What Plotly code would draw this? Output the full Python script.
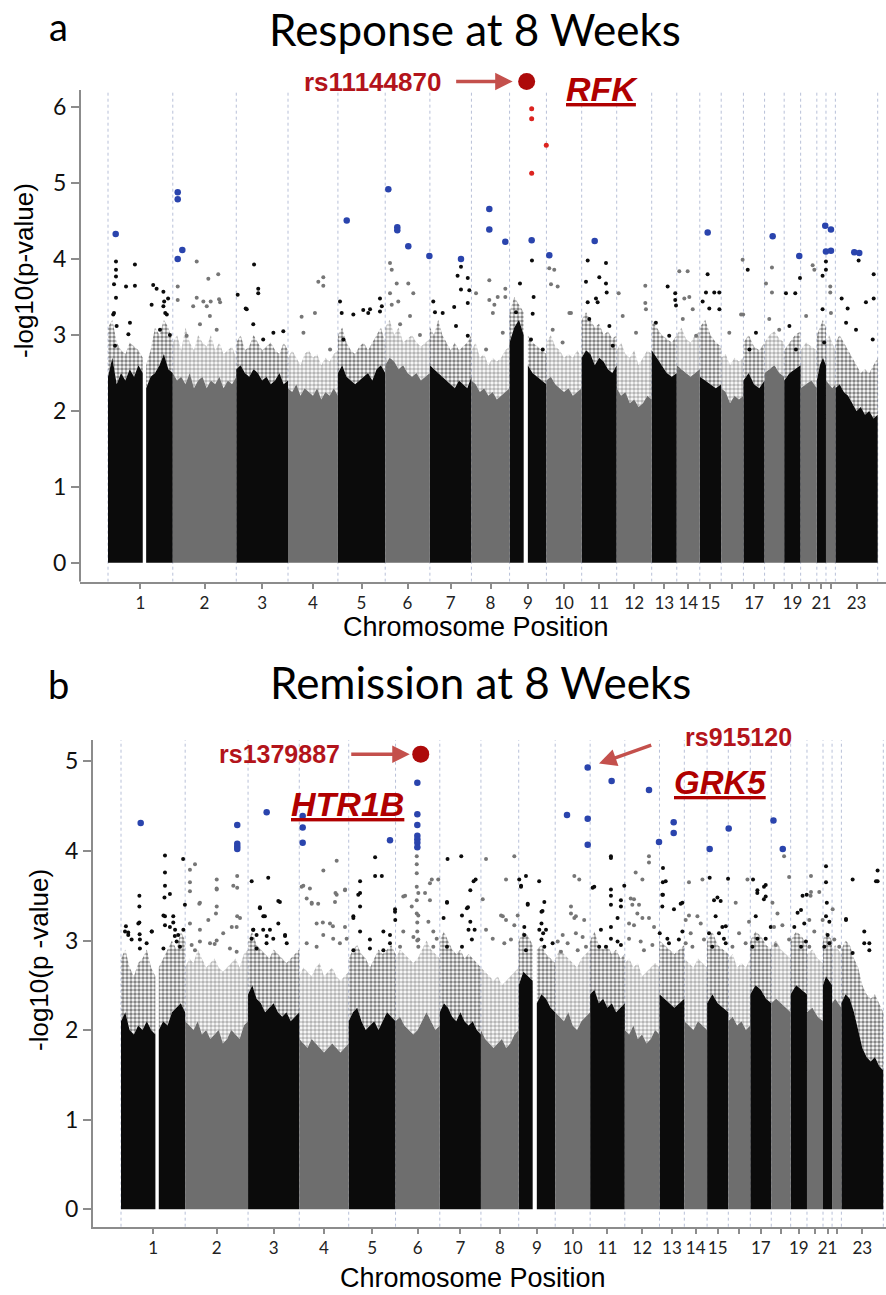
import plotly.graph_objects as go

# ---------------- data ----------------
CHROM_LEN = [248, 243, 198, 191, 181, 171, 159, 146, 141, 135, 134, 134,
             96, 88, 82, 85, 81, 75, 63, 62, 35, 36, 162]
GAPS = {1: (133, 146), 9: (54, 70)}
TICK_TEXT = ['1', '2', '3', '4', '5', '6', '7', '8', '9', '10', '11', '12',
             '13', '14', '15', '', '17', '', '19', '', '21', '', '23']

# panel a: dense-mass top (inner) and speckle top (outer), per chromosome segment
ENV_A_IN = {
    '1a': [2.45, 2.7, 2.35, 2.5, 2.4, 2.55, 2.45, 2.6, 2.5],
    '1b': [2.3, 2.45, 2.5, 2.6, 2.75, 2.55, 2.5],
    '2': [2.5, 2.4, 2.45, 2.35, 2.5, 2.3, 2.4, 2.45, 2.3, 2.4, 2.35, 2.45, 2.3, 2.4, 2.35, 2.45],
    '3': [2.55, 2.6, 2.5, 2.45, 2.55, 2.5, 2.4, 2.45, 2.35, 2.4, 2.5, 2.35, 2.4],
    '4': [2.3, 2.25, 2.35, 2.2, 2.3, 2.25, 2.2, 2.3, 2.15, 2.25, 2.2, 2.3, 2.2],
    '5': [2.5, 2.6, 2.45, 2.4, 2.35, 2.4, 2.45, 2.5, 2.4, 2.55, 2.6, 2.5],
    '6': [2.6, 2.7, 2.65, 2.55, 2.6, 2.5, 2.45, 2.5, 2.4, 2.45, 2.5],
    '7': [2.6, 2.55, 2.5, 2.45, 2.4, 2.35, 2.3, 2.4, 2.35, 2.3, 2.45],
    '8': [2.4, 2.35, 2.25, 2.3, 2.2, 2.25, 2.15, 2.2, 2.25, 2.3],
    '9a': [2.9, 3.1, 3.2, 3.0],
    '9b': [2.6, 2.5, 2.45, 2.4, 2.35],
    '10': [2.4, 2.45, 2.35, 2.3, 2.25, 2.3, 2.2, 2.25, 2.3],
    '11': [2.7, 2.8, 2.75, 2.6, 2.7, 2.65, 2.55, 2.5, 2.6],
    '12': [2.3, 2.2, 2.25, 2.1, 2.15, 2.05, 2.1, 2.2, 2.15],
    '13': [2.8, 2.7, 2.6, 2.5, 2.45, 2.5],
    '14': [2.6, 2.55, 2.5, 2.45, 2.5, 2.55],
    '15': [2.45, 2.4, 2.35, 2.3, 2.35],
    '16': [2.3, 2.25, 2.1, 2.2, 2.15, 2.2],
    '17': [2.4, 2.5, 2.35, 2.3, 2.4],
    '18': [2.5, 2.55, 2.6, 2.5, 2.45],
    '19': [2.4, 2.5, 2.55, 2.6],
    '20': [2.3, 2.35, 2.4, 2.3],
    '21': [2.4, 2.6, 2.7, 2.6],
    '22': [2.4, 2.35, 2.3, 2.35],
    '23': [2.3, 2.35, 2.25, 2.2, 2.1, 2.0, 2.05, 1.95, 2.0, 1.9, 1.95],
}
ENV_A_OUT = {
    '1a': [3.1, 3.2, 2.9, 2.8, 2.75, 2.9, 2.85, 2.8, 2.7],
    '1b': [2.6, 2.8, 3.1, 3.0, 3.2, 3.1, 2.9],
    '2': [2.9, 3.0, 2.8, 3.1, 2.9, 2.8, 3.0, 2.9, 2.85, 3.0, 2.8, 2.9, 2.75, 2.8, 2.85, 2.7],
    '3': [2.9, 3.0, 2.8, 2.85, 3.0, 2.9, 2.8, 2.85, 2.9, 2.8, 2.75, 2.9, 2.8],
    '4': [2.7, 2.8, 2.7, 2.6, 2.75, 2.8, 2.7, 2.75, 2.6, 2.7, 2.65, 2.75, 2.8],
    '5': [3.0, 3.1, 2.9, 2.8, 2.75, 2.85, 2.9, 2.8, 2.9, 3.0, 3.1, 2.9],
    '6': [3.1, 3.2, 3.0, 3.1, 2.9, 2.95, 3.0, 2.9, 2.85, 2.9, 2.95],
    '7': [3.1, 3.0, 3.2, 3.0, 2.9, 2.8, 2.9, 2.8, 2.85, 2.9, 3.0],
    '8': [2.8, 2.9, 2.7, 2.75, 2.6, 2.7, 2.65, 2.7, 2.8, 2.85],
    '9a': [3.3, 3.5, 3.4, 3.3],
    '9b': [3.0, 2.9, 2.85, 2.8, 2.75],
    '10': [2.9, 3.0, 2.85, 2.8, 2.7, 2.75, 2.7, 2.8, 2.7],
    '11': [3.2, 3.3, 3.2, 3.1, 3.15, 3.0, 3.05, 2.95, 3.0],
    '12': [2.8, 2.9, 2.75, 2.7, 2.8, 2.6, 2.7, 2.8, 2.75],
    '13': [3.2, 3.1, 3.0, 2.95, 2.9, 3.0],
    '14': [3.0, 3.1, 2.95, 2.9, 3.0, 3.05],
    '15': [3.1, 3.2, 3.0, 2.9, 2.85],
    '16': [2.7, 2.75, 2.6, 2.7, 2.65, 2.7],
    '17': [2.9, 3.0, 2.85, 2.8, 2.9],
    '18': [2.9, 3.0, 3.05, 2.95, 2.9],
    '19': [2.8, 2.9, 3.0, 3.05],
    '20': [2.8, 2.9, 2.85, 2.8],
    '21': [3.0, 3.1, 3.2, 3.1],
    '22': [2.9, 3.0, 2.9, 2.8],
    '23': [2.9, 3.0, 2.9, 2.8, 2.7, 2.6, 2.5, 2.55, 2.5, 2.6, 2.7],
}

# panel b
ENV_B_IN = {
    '1a': [2.1, 2.2, 2.0, 1.95, 2.05, 2.0, 2.1, 2.0, 1.95],
    '1b': [2.0, 2.1, 2.05, 2.2, 2.25, 2.3, 2.2],
    '2': [2.1, 2.05, 2.0, 2.1, 1.95, 2.0, 1.9, 1.95, 2.0, 1.85, 1.9, 2.0, 1.95, 1.9, 2.05, 2.1],
    '3': [2.4, 2.5, 2.35, 2.3, 2.2, 2.25, 2.3, 2.2, 2.15, 2.2, 2.1, 2.15, 2.2],
    '4': [1.9, 1.85, 1.8, 1.9, 1.85, 1.8, 1.75, 1.8, 1.85, 1.8, 1.75, 1.8, 1.85],
    '5': [2.1, 2.2, 2.25, 2.1, 2.0, 2.05, 2.1, 2.0, 2.1, 2.2, 2.15, 2.1],
    '6': [2.1, 2.15, 2.05, 2.0, 1.95, 2.0, 2.1, 2.2, 2.1, 2.0, 2.05],
    '7': [2.2, 2.3, 2.25, 2.15, 2.1, 2.2, 2.1, 2.05, 2.1, 2.0, 1.95],
    '8': [2.0, 1.9, 1.85, 1.8, 1.85, 1.9, 1.8, 1.85, 1.95, 2.0],
    '9a': [2.5, 2.65, 2.6, 2.55],
    '9b': [2.3, 2.4, 2.35, 2.25, 2.2],
    '10': [2.2, 2.15, 2.1, 2.2, 2.05, 2.0, 2.1, 2.15, 2.2],
    '11': [2.4, 2.45, 2.3, 2.35, 2.25, 2.3, 2.2, 2.25, 2.3],
    '12': [2.0, 1.95, 2.05, 1.9, 1.95, 1.85, 1.9, 2.0, 1.95],
    '13': [2.4, 2.35, 2.3, 2.25, 2.3, 2.35],
    '14': [2.1, 2.05, 2.0, 2.1, 2.05, 2.0],
    '15': [2.3, 2.4, 2.3, 2.25, 2.2],
    '16': [2.1, 2.15, 2.05, 2.1, 2.0, 2.05],
    '17': [2.4, 2.5, 2.45, 2.35, 2.3],
    '18': [2.3, 2.35, 2.3, 2.25, 2.2],
    '19': [2.4, 2.5, 2.45, 2.4],
    '20': [2.2, 2.25, 2.15, 2.1],
    '21': [2.5, 2.6, 2.55, 2.5],
    '22': [2.3, 2.35, 2.3, 2.25],
    '23': [2.3, 2.4, 2.35, 2.2, 2.0, 1.8, 1.7, 1.65, 1.7, 1.6, 1.55],
}
ENV_B_OUT = {
    '1a': [2.8, 2.9, 2.7, 2.6, 2.75, 2.8, 2.9, 2.7, 2.6],
    '1b': [2.7, 2.8, 2.9, 3.0, 2.9, 3.1, 3.0],
    '2': [2.7, 2.8, 2.75, 2.9, 2.8, 2.7, 2.75, 2.8, 2.7, 2.65, 2.7, 2.75, 2.8, 2.7, 2.85, 2.9],
    '3': [3.0, 3.1, 2.95, 2.9, 2.85, 2.8, 2.9, 2.85, 2.8, 2.75, 2.8, 2.85, 2.9],
    '4': [2.6, 2.7, 2.65, 2.6, 2.7, 2.75, 2.6, 2.65, 2.7, 2.6, 2.55, 2.6, 2.65],
    '5': [2.8, 2.9, 2.95, 2.85, 2.8, 2.7, 2.8, 2.9, 2.85, 2.9, 2.95, 2.85],
    '6': [2.8, 2.9, 2.85, 2.8, 2.75, 2.8, 2.9, 3.0, 2.9, 2.85, 2.8],
    '7': [3.0, 3.1, 3.0, 2.9, 2.85, 2.9, 2.8, 2.85, 2.8, 2.75, 2.7],
    '8': [2.7, 2.65, 2.6, 2.55, 2.6, 2.5, 2.55, 2.6, 2.65, 2.7],
    '9a': [3.0, 3.1, 3.05, 2.95],
    '9b': [2.9, 2.95, 2.85, 2.8, 2.75],
    '10': [2.8, 2.9, 2.85, 2.8, 2.75, 2.7, 2.8, 2.85, 2.9],
    '11': [3.0, 3.1, 2.95, 2.9, 2.95, 2.85, 2.9, 2.8, 2.85],
    '12': [2.75, 2.8, 2.7, 2.75, 2.6, 2.65, 2.7, 2.75, 2.7],
    '13': [3.0, 2.95, 2.9, 2.85, 2.9, 2.95],
    '14': [2.8, 2.75, 2.7, 2.8, 2.75, 2.7],
    '15': [3.0, 3.1, 2.95, 2.9, 2.85],
    '16': [2.8, 2.85, 2.7, 2.75, 2.7, 2.8],
    '17': [3.0, 3.1, 3.05, 2.95, 2.9],
    '18': [2.95, 3.0, 2.9, 2.85, 2.8],
    '19': [3.0, 3.1, 3.05, 2.95],
    '20': [2.85, 2.9, 2.8, 2.75],
    '21': [3.0, 3.1, 3.05, 3.0],
    '22': [2.9, 2.95, 2.9, 2.85],
    '23': [2.9, 3.0, 2.95, 2.8, 2.7, 2.5, 2.4, 2.35, 2.4, 2.3, 2.2],
}

# sparse SNPs above the dense mass: chromosome -> [(position Mb, -log10 p)]
PTS_A = {
    1: [(30.6, 3.97), (30.6, 3.86), (30.6, 3.77), (23, 3.67), (23, 3.29), (30.6, 3.49), (69, 3.64),
        (103, 3.93), (103, 3.65), (167, 3.40), (173, 3.66), (186, 3.61), (212, 3.57), (215, 3.44),
        (230, 3.48), (219, 3.29), (20, 3.27), (33, 3.12), (84, 3.16), (78, 3.01), (27, 2.86),
        (199, 3.07), (225, 3.27), (237, 3.0), (212, 3.38)],
    2: [(18.8, 3.64), (18.8, 3.46), (91.5, 3.97), (91.5, 3.49), (136, 3.74), (174, 3.80), (117, 3.44),
        (145, 3.44), (177, 3.47), (78, 3.38), (130, 3.38), (142, 3.25), (181, 3.43), (104, 3.14),
        (168, 3.07), (53, 2.99)],
    3: [(5.4, 3.53), (36, 3.35), (68, 3.93), (84, 3.61), (84, 3.55), (40, 3.34), (65, 3.14),
        (142, 3.03), (180, 3.05), (103, 2.94)],
    4: [(52, 3.24), (103, 3.29), (116, 3.70), (135, 3.65), (135, 3.76), (59, 3.03), (161, 2.81)],
    5: [(8, 3.44), (14.5, 3.29), (59, 3.27), (97, 3.33), (116, 3.29), (161, 3.48), (168, 3.38),
        (161, 3.31), (123, 3.34), (21, 2.94)],
    6: [(18.4, 3.95), (18.4, 3.55), (25, 3.86), (25, 3.40), (44, 3.68), (50, 3.44), (88.4, 3.68),
        (107.5, 3.55), (57, 3.14), (95, 3.25), (133, 3.0)],
    7: [(13, 3.44), (19.5, 3.30), (119, 3.90), (106, 3.78), (119, 3.60), (145, 3.75), (151, 3.59),
        (145, 3.42), (93, 3.37), (49, 3.29), (100, 3.12), (145, 2.99)],
    8: [(17.6, 3.55), (68.5, 3.72), (68.5, 3.46), (100.6, 3.50), (129.8, 3.61), (129.8, 3.50),
        (87.8, 3.40), (82, 3.29), (56, 2.81), (120, 3.03)],
    9: [(39.8, 3.68), (24.5, 3.30), (85.7, 3.98), (92, 3.50), (88.4, 3.28), (37, 3.03), (127, 2.81),
        (82, 2.94)],
    10: [(11, 3.88), (30, 3.86), (17.6, 3.67), (43, 3.64), (94, 3.29), (24, 3.07), (88, 3.29), (62, 2.9)],
    11: [(23, 3.98), (93, 3.95), (67.4, 3.76), (16.5, 3.70), (93, 3.68), (95.7, 3.56), (54.7, 3.48),
         (61, 3.43), (23, 3.43), (29, 3.21), (106, 3.12), (119, 2.86)],
    12: [(7.6, 3.55), (109.5, 3.65), (109.5, 3.42), (23, 3.25), (74, 3.03), (112, 3.34)],
    13: [(61, 3.64), (90, 3.55), (90, 3.46), (93, 3.39), (16, 3.16), (67, 2.99)],
    14: [(9.6, 3.84), (41.6, 3.84), (28.8, 3.48), (48, 3.50), (23, 3.21), (61, 3.34), (74, 2.99)],
    15: [(30, 3.80), (23.7, 3.56), (55.5, 3.56), (74.6, 3.56), (11, 3.44), (36.4, 3.35), (75, 3.34)],
    16: [(82, 3.99), (84, 3.27), (31, 3.03), (76, 3.27)],
    17: [(16.5, 3.86), (23, 2.81), (48, 3.03)],
    18: [(28.3, 3.89), (5.4, 3.68), (28.3, 3.56), (18, 3.21), (56, 3.07)],
    19: [(7, 3.55), (42.5, 3.55), (60.5, 3.75), (20, 3.12), (45, 2.81)],
    20: [(46, 3.92), (52.5, 3.86), (21, 3.25)],
    21: [(34.8, 3.97), (34.8, 3.86), (22, 3.78), (22, 3.34), (28, 2.9)],
    22: [(16.5, 3.64), (16.5, 3.56), (19, 3.29)],
    23: [(89, 3.98), (24, 3.48), (47, 3.35), (117, 3.43), (146.6, 3.80), (146.6, 3.48), (41, 3.16),
         (79, 3.07), (143, 2.94)],
}
PTS_B = {
    1: [(19, 3.16), (28, 3.09), (71, 3.50), (71, 3.38), (71, 3.20), (72, 3.07), (41, 3.01), (119, 3.10),
        (99, 2.97), (170, 3.95), (170, 3.76), (170, 3.61), (168, 3.48), (170, 3.27), (202, 3.20),
        (208, 3.05), (240, 3.91)],
    2: [(18.5, 3.79), (38, 3.85), (18.5, 3.65), (18.5, 3.55), (57, 3.42), (122, 3.68), (122, 3.57),
        (122, 3.38), (114, 2.96), (186, 3.61), (201, 3.72), (201, 3.59), (201, 3.27)],
    3: [(14, 3.66), (78, 3.70), (46, 3.37), (59, 3.27), (117, 3.44), (143, 3.05), (20, 3.12), (72, 3.05)],
    4: [(15.5, 3.61), (48, 3.42), (93, 3.78), (144.5, 3.89), (140, 3.53), (177, 3.57), (130, 3.16),
        (91, 3.20)],
    5: [(44, 3.66), (44, 3.53), (44, 3.38), (18, 3.27), (102, 3.93), (102, 3.72), (128, 3.72), (179, 3.35)],
    6: [(37, 3.50), (82, 3.94), (82, 3.85), (82, 3.75), (82, 3.60), (82, 3.45), (82, 3.30), (84, 3.2),
        (84, 3.1), (84, 3.0), (140, 3.68), (165, 3.68)],
    7: [(30, 3.91), (28, 3.42), (83, 3.94), (138.5, 3.68), (109, 3.37), (134.6, 3.12)],
    8: [(19.7, 3.91), (129, 3.94), (97, 3.68), (7, 3.46), (84.6, 3.27)],
    9: [(2, 3.68), (28, 3.72), (9, 3.61), (34.8, 3.40), (79, 3.66), (92, 3.33), (105.5, 3.12)],
    10: [(74, 3.72), (93, 3.68), (61, 3.38), (80, 3.27), (112, 3.23)],
    11: [(80.4, 3.94), (80.4, 3.92), (80.4, 3.57), (80.4, 3.50), (9.7, 3.59), (132, 3.61), (119, 3.38)],
    12: [(93.5, 3.94), (93.5, 3.87), (42, 3.76), (68, 3.68), (35.6, 3.46)],
    13: [(13.5, 3.81), (13, 3.65), (13.5, 3.51), (56, 3.35), (88.5, 3.42)],
    14: [(18, 3.65), (70, 3.68)],
    15: [(10, 3.70), (81, 3.69), (40, 3.48), (72.2, 3.16)],
    16: [(74, 3.68), (28.6, 3.42)],
    17: [(10.5, 3.68), (27, 3.53), (59.5, 3.62), (52.7, 3.46)],
    18: [(49.6, 3.94), (69, 3.71), (4.6, 3.42)],
    19: [(46, 3.50), (26.7, 3.31)],
    20: [(15.5, 3.72), (14, 3.50)],
    21: [(11.6, 3.83), (11.6, 3.65), (14.8, 3.42)],
    22: [(2.3, 3.35)],
    23: [(43.5, 3.68), (140, 3.78), (140, 3.66), (88.5, 3.10), (108, 2.97), (17.8, 3.24)],
}
PTS_B_BAND = {
    1: [(67, 3.19), (15.5, 3.10), (28, 3.06), (118.6, 3.10), (164, 3.28), (202, 3.27), (170, 3.17),
        (189, 3.15), (209, 3.12), (221, 3.06), (215, 2.99), (73, 3.01), (73, 2.91), (164, 2.91),
        (228, 2.93), (241, 3.12), (247, 3.40), (189, 3.52)],
    2: [(121.6, 3.58), (54.6, 3.41), (119, 3.30), (89.4, 3.23), (18.5, 3.19), (57, 3.12), (180, 3.15),
        (199, 3.15), (147, 3.08), (212, 3.25), (25, 2.95), (38, 2.89), (96, 2.97), (121.6, 3.00),
        (173, 2.91), (199, 2.875), (57, 2.99)],
    3: [(123, 3.43), (46, 3.36), (65, 3.27), (20, 3.12), (58.6, 3.12), (33, 3.06), (84.6, 3.12),
        (97.5, 3.02), (14, 3.02), (117, 3.19), (143, 3.06), (71.5, 2.97), (149.5, 2.97), (33, 2.91)],
    4: [(9, 3.60), (41, 3.58), (28.6, 3.47), (48, 3.41), (73, 3.41), (144.5, 3.51), (138, 3.43),
        (176.6, 3.56), (118.6, 3.19), (176.6, 3.15), (67, 3.19), (92.7, 3.06), (131, 3.02), (157, 2.97),
        (67, 2.93), (28.6, 2.97), (183, 3.02)],
    5: [(37, 3.51), (18, 3.25), (44, 3.10), (82, 3.01), (134, 3.10), (159.5, 3.06), (179, 3.32),
        (180, 3.23), (159.5, 2.97), (134, 2.89), (18, 2.89), (82, 2.91)],
    6: [(30, 3.49), (88, 3.53), (114, 3.53), (133, 3.64), (133, 3.45), (62.6, 3.38), (88, 3.28),
        (127, 3.21), (30, 3.10), (69, 3.04), (88, 3.01), (146, 3.10), (159, 3.02), (17.4, 2.93),
        (146, 2.93), (88, 2.93)],
    7: [(27.8, 3.43), (14.7, 3.25), (85.8, 3.28), (105, 3.36), (118, 3.21), (111, 3.12), (124, 3.01),
        (27.8, 2.93), (85.8, 2.93), (130.6, 3.66), (118, 3.56)],
    8: [(19.7, 3.12), (77.7, 3.28), (97, 3.23), (45.6, 3.02), (90.4, 2.97), (116, 3.01), (129, 3.17),
        (142, 3.28)],
    9: [(8.9, 3.60), (34.8, 3.41), (99, 3.43), (88, 3.32), (88, 3.19), (79.6, 3.12), (94.5, 3.08),
        (88, 3.01), (99, 2.93), (21.6, 3.15), (21.6, 3.06), (28, 2.89), (131, 2.97)],
    10: [(61, 3.30), (74, 3.25), (80, 3.08), (29, 3.06), (9.7, 2.99), (48, 2.97), (106, 3.04),
         (119, 2.93), (87, 2.89), (22.4, 2.875)],
    11: [(16, 3.60), (80.4, 3.40), (119, 3.45), (41.7, 3.12), (80.4, 3.15), (106, 3.25), (80.4, 3.02),
         (106, 2.99), (119, 2.95), (35, 2.93), (61, 2.93)],
    12: [(22.8, 3.47), (29, 3.40), (55, 3.40), (48.5, 3.30), (16.4, 3.19), (35.6, 3.17), (68, 3.25),
         (93.5, 3.25), (113, 3.15), (16.4, 3.02), (61.4, 2.99), (74, 2.89), (106.6, 2.95)],
    13: [(24, 3.66), (11, 3.51), (11, 3.38), (82, 3.41), (1, 3.08), (30.5, 3.02), (36.7, 2.97),
         (88.5, 3.10), (75, 3.01)],
    14: [(18, 3.28), (5.4, 3.23), (50.6, 3.27), (63.4, 3.19), (24.7, 3.08), (76, 3.01), (31.3, 2.93),
         (5.4, 2.97)],
    15: [(26.8, 3.45), (52.5, 3.44), (33, 3.27), (7.5, 3.08), (46, 3.08), (65, 3.02), (72, 2.97),
         (20, 2.93), (59, 3.15)],
    16: [(80, 3.21), (41.5, 3.08), (67, 2.97), (16, 2.93)],
    17: [(27.4, 3.56), (53, 3.60), (59.5, 3.49), (21, 3.27), (27.4, 3.02), (59.5, 3.02), (79, 3.15),
         (8, 2.93)],
    18: [(24, 3.30), (10.8, 3.15), (43, 3.17), (69, 3.01), (17.4, 2.95)],
    19: [(40, 3.34), (62, 3.51), (52.6, 3.19), (14, 3.15), (59, 2.99), (40, 2.93)],
    20: [(15.5, 3.54), (47.6, 3.54), (9, 3.23), (60.6, 3.23), (28.3, 3.10), (9, 2.93)],
    21: [(11.6, 3.27), (24.5, 3.21), (18, 3.06), (24.5, 2.97), (5, 2.93)],
    22: [(8.5, 3.01), (27.8, 2.93)],
    23: [(17.8, 3.23), (88.5, 2.97), (108, 2.89), (43.5, 2.86), (133.7, 3.66)],
}

# highlighted SNPs: (chromosome, position Mb, -log10 p)
BLUE_A = [(1, 29.5, 4.33), (2, 18.8, 4.88), (2, 18.8, 4.79), (2, 36.4, 4.12), (2, 18.8, 4.00),
          (5, 33.7, 4.51), (6, 11.9, 4.92), (6, 46.3, 4.42), (6, 46.3, 4.38), (6, 88.4, 4.17),
          (6, 169, 4.04), (7, 119, 4.00), (8, 68.5, 4.66), (8, 68.5, 4.39), (8, 129.7, 4.23),
          (9, 84.6, 4.25), (10, 11.1, 4.05), (11, 49.8, 4.24), (15, 30.2, 4.35), (18, 31, 4.30),
          (19, 57.8, 4.04), (21, 32.2, 4.44), (22, 19.1, 4.39), (21, 34.8, 4.10), (22, 19.1, 4.11),
          (23, 72.3, 4.09), (23, 91.5, 4.08)]
RED_A = [(9, 84.6, 5.98), (9, 84.6, 5.85), (9, 140.5, 5.50), (9, 84.6, 5.13)]
TOP_A = (9, 65.4, 6.34)

BLUE_B = [(1, 76.1, 4.31), (2, 201.3, 4.29), (2, 201.3, 4.08), (2, 201.3, 4.05), (2, 201.3, 4.02),
          (3, 71.9, 4.43), (4, 13.1, 4.39), (4, 13.1, 4.26), (4, 13.1, 4.09), (5, 159.6, 4.12),
          (6, 84.2, 4.76), (6, 84.2, 4.41), (6, 84.2, 4.29), (6, 84.2, 4.17), (6, 84.2, 4.13),
          (6, 84.2, 4.09), (6, 84.2, 4.04), (10, 125.6, 4.93), (11, 83.1, 4.78), (12, 93.5, 4.68),
          (10, 45.6, 4.40), (10, 125.6, 4.36), (10, 125.6, 4.07), (12, 132.2, 4.10), (13, 54.9, 4.32),
          (13, 54.9, 4.20), (15, 10, 4.02), (16, 1.5, 4.25), (18, 8.5, 4.34), (18, 44.4, 4.02)]
TOP_B = (6, 97.4, 5.08)

# ---------------- geometry helpers ----------------
W, H = 886, 1295
OFF = {}
acc = 0
for i, L in enumerate(CHROM_LEN):
    OFF[i + 1] = acc
    acc += L
GENOME_END = acc

SEGS = []
for c in range(1, 24):
    L = CHROM_LEN[c - 1]
    if c in GAPS:
        g0, g1 = GAPS[c]
        SEGS.append((f"{c}a", c, 0, g0))
        SEGS.append((f"{c}b", c, g1, L))
    else:
        SEGS.append((str(c), c, 0, L))

BLACK = '#0b0b0b'
GREY = '#6e6e6e'
GREY_PT = '#767676'
BLUE = '#2a44ad'
RED = '#dc2420'
DARKRED = '#ad0a0a'


def gx(c, p):
    return OFF[c] + p


def px(x):
    return x / W


def py(y):
    return 1 - y / H


fig = go.Figure()


def add_panel(env_in, env_out, pt_sets, blue, red, top, xa, ya):
    for parity, col, pcol, sol in ((1, BLACK, BLACK, 0.6), (0, GREY, GREY_PT, 0.65)):
        sx, sy, bx, by = [], [], [], []
        for key, c, s, e in SEGS:
            if c % 2 != parity:
                continue
            inner, outer = env_in[key], env_out[key]
            n = len(inner)
            xs = [gx(c, s + (e - s) * i / (n - 1)) for i in range(n)]
            sx += [xs[0]] + xs + [xs[-1], None]
            sy += [0] + inner + [0, None]
            bx += xs + xs[::-1] + [None]
            by += inner + outer[::-1] + [None]
        fig.add_trace(go.Scatter(
            x=bx, y=by, mode='lines', fill='toself', line=dict(width=0),
            fillcolor='rgba(0,0,0,0)',
            fillpattern=dict(shape='.', fgcolor=col, bgcolor='rgba(0,0,0,0)',
                             size=4, solidity=sol),
            xaxis=xa, yaxis=ya, hoverinfo='skip', showlegend=False))
        fig.add_trace(go.Scatter(
            x=sx, y=sy, mode='lines', fill='toself', line=dict(width=0),
            fillcolor=col, xaxis=xa, yaxis=ya, hoverinfo='skip', showlegend=False))
        qx, qy = [], []
        for pts in pt_sets:
            for c, lst in pts.items():
                if c % 2 != parity:
                    continue
                for p, v in lst:
                    qx.append(gx(c, p))
                    qy.append(v)
        fig.add_trace(go.Scatter(
            x=qx, y=qy, mode='markers', marker=dict(size=4, color=pcol),
            xaxis=xa, yaxis=ya, hoverinfo='skip', showlegend=False))
    fig.add_trace(go.Scatter(
        x=[gx(c, p) for c, p, v in blue], y=[v for c, p, v in blue], mode='markers',
        marker=dict(size=6.5, color=BLUE), xaxis=xa, yaxis=ya, hoverinfo='skip',
        showlegend=False))
    if red:
        fig.add_trace(go.Scatter(
            x=[gx(c, p) for c, p, v in red], y=[v for c, p, v in red], mode='markers',
            marker=dict(size=5, color=RED), xaxis=xa, yaxis=ya, hoverinfo='skip',
            showlegend=False))
    fig.add_trace(go.Scatter(
        x=[gx(top[0], top[1])], y=[top[2]], mode='markers',
        marker=dict(size=17, color=DARKRED), cliponaxis=False,
        xaxis=xa, yaxis=ya, hoverinfo='skip', showlegend=False))


add_panel(ENV_A_IN, ENV_A_OUT, [PTS_A], BLUE_A, RED_A, TOP_A, 'x', 'y')
add_panel(ENV_B_IN, ENV_B_OUT, [PTS_B, PTS_B_BAND], BLUE_B, None, TOP_B, 'x2', 'y2')

tickvals = [OFF[c] + CHROM_LEN[c - 1] / 2 for c in range(1, 24)]
bounds = [OFF[c] for c in range(1, 24)] + [GENOME_END]

AX_COL = '#8c8c8c'
TICK_FONT = 'Lato, Open Sans, sans-serif'


def xaxis_cfg(dom, rng, anchor):
    return dict(domain=dom, range=rng, anchor=anchor, showline=True, linecolor=AX_COL,
                linewidth=2, ticks='outside', ticklen=5, tickwidth=1.5, tickcolor=AX_COL,
                tickvals=tickvals, ticktext=TICK_TEXT, showgrid=False, zeroline=False,
                tickfont=dict(family=TICK_FONT, size=17, color='#222222'),
                fixedrange=True)


def yaxis_cfg(dom, rng, anchor, nmax, line):
    return dict(domain=dom, range=rng, anchor=anchor, showline=line, linecolor=AX_COL,
                linewidth=2, ticks='outside', ticklen=8, tickwidth=1.5, tickcolor=AX_COL,
                tickvals=list(range(nmax + 1)), showgrid=False, zeroline=False,
                tickfont=dict(family=TICK_FONT, size=23, color='#111111'),
                fixedrange=True)


# pixel geometry of the two plot areas
A_L, A_T, A_B = 80, 55, 581.7     # panel a plot area (extends above the axis top for the lead SNP)
A_AXTOP = 90                      # where the drawn y axis line of panel a ends
B_L, B_T, B_B = 93, 740, 1226.7
a_scale = (877.7 - 108) / GENOME_END
b_scale = (883.3 - 121) / GENOME_END
ya0, ya1 = (562.7 - A_B) / 75.9, (562.7 - A_T) / 75.9
ya_top_line = (562.7 - A_AXTOP) / 75.9

fig.update_layout(
    width=W, height=H, margin=dict(l=0, r=0, t=0, b=0),
    paper_bgcolor='white', plot_bgcolor='white', showlegend=False,
    xaxis=xaxis_cfg([px(A_L), 1], [(A_L - 108) / a_scale, (W - 108) / a_scale], 'y'),
    yaxis=yaxis_cfg([py(A_B), py(A_T)], [ya0, ya1], 'x', 6, False),
    xaxis2=xaxis_cfg([px(B_L), 1], [(B_L - 121) / b_scale, (W - 121) / b_scale], 'y2'),
    yaxis2=yaxis_cfg([py(B_B), py(B_T)], [(1209.3 - B_B) / 89.6, (1209.3 - B_T) / 89.6], 'x2', 5, True),
)

shapes = []
for b in bounds:
    shapes.append(dict(type='line', xref='x', yref='y', x0=b, x1=b, y0=ya0, y1=ya_top_line,
                       line=dict(color='#b8c0d8', width=1, dash='dot'), layer='below'))
    shapes.append(dict(type='line', xref='x2', yref='y2 domain', x0=b, x1=b, y0=0, y1=1,
                       line=dict(color='#b8c0d8', width=1, dash='dot'), layer='below'))
shapes.append(dict(type='line', xref='x domain', yref='y', x0=0, x1=0, y0=ya0, y1=ya_top_line,
                   line=dict(color=AX_COL, width=2)))
fig.update_layout(shapes=shapes)

ANN_FONT = 'Liberation Sans, Arial, sans-serif'
TITLE_FONT = 'Lato, Open Sans, sans-serif'
RED_TXT = '#b3141b'
ARROW = '#c4504c'

ann = []


def text(x, y, s, size, family, color='black', xanchor='center', angle=0):
    ann.append(dict(x=px(x), y=py(y), xref='paper', yref='paper', text=s, showarrow=False,
                    xanchor=xanchor, yanchor='middle', textangle=angle,
                    font=dict(size=size, family=family, color=color)))


text(58, 26, 'a', 38, TITLE_FONT)
text(475, 29, 'Response at 8 Weeks', 44, TITLE_FONT)
text(58, 684, 'b', 38, TITLE_FONT)
text(480, 682, 'Remission at 8 Weeks', 44, TITLE_FONT)
text(24, 271, '-log10(p-value)', 26, ANN_FONT, angle=-90)
text(39, 960, '-log10(p -value)', 26, ANN_FONT, angle=-90)
text(476, 627, 'Chromosome Position', 27, ANN_FONT)
text(473, 1278, 'Chromosome Position', 27, ANN_FONT)

text(443, 82, '<b>rs11144870</b>', 26, ANN_FONT, RED_TXT, xanchor='right')
text(602, 89, '<b><i><u>RFK</u></i></b>', 34, ANN_FONT, '#b00000')
text(342, 754, '<b>rs1379887</b>', 25, ANN_FONT, RED_TXT, xanchor='right')
text(347, 804, '<b><i><u>HTR1B</u></i></b>', 34, ANN_FONT, '#b00000')
text(738, 737, '<b>rs915120</b>', 25, ANN_FONT, RED_TXT)
text(720, 782, '<b><i><u>GRK5</u></i></b>', 33, ANN_FONT, '#b00000')

# arrows pointing to the lead SNPs
ann.append(dict(x=gx(TOP_A[0], TOP_A[1]), y=TOP_A[2], xref='x', yref='y', text='',
                showarrow=True, ax=-72, ay=0, standoff=14, arrowhead=2, arrowsize=1,
                arrowwidth=3.5, arrowcolor=ARROW))
ann.append(dict(x=gx(TOP_B[0], TOP_B[1]), y=TOP_B[2], xref='x2', yref='y2', text='',
                showarrow=True, ax=-71, ay=0, standoff=11, arrowhead=2, arrowsize=1,
                arrowwidth=3.5, arrowcolor=ARROW))
ann.append(dict(x=gx(10, 125.6), y=4.93, xref='x2', yref='y2', text='',
                showarrow=True, ax=65, ay=-23, standoff=12, arrowhead=2, arrowsize=1,
                arrowwidth=3.5, arrowcolor=ARROW))
fig.update_layout(annotations=ann)

fig.write_html('out.html', config={'displayModeBar': False},
               post_script="document.body.style.margin='0px';")
